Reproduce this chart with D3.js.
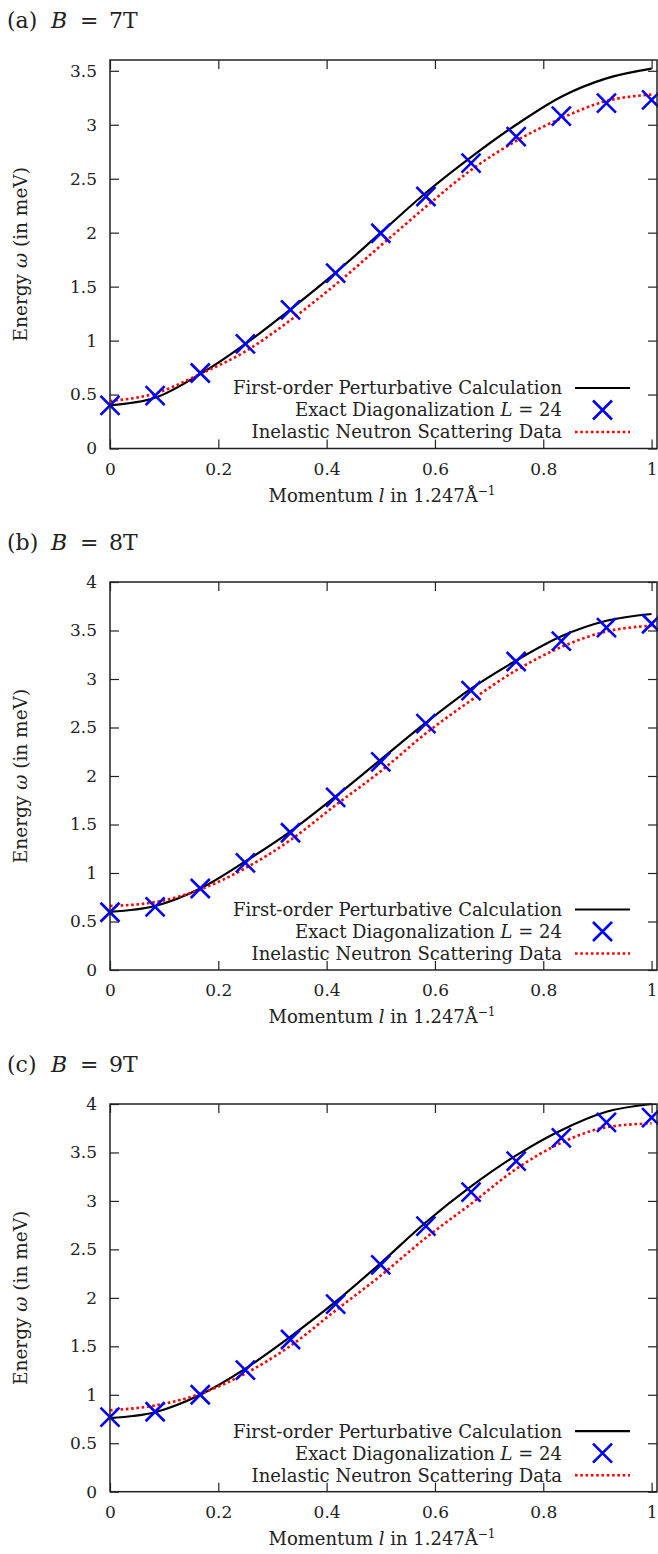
<!DOCTYPE html>
<html>
<head>
<meta charset="utf-8">
<script src="https://cdn.jsdelivr.net/npm/d3@7"></script>
<style>
  html, body { margin: 0; padding: 0; background: #fff; }
  svg { display: block; }
  text { font-family: "DejaVu Serif", "Liberation Serif", serif; fill: #222; }
</style>
</head>
<body>
<div id="chart"></div>
<script>
// momentum points l = k/12 (L = 24)
var momenta = [0, 1/12, 2/12, 3/12, 4/12, 5/12, 6/12, 7/12, 8/12, 9/12, 10/12, 11/12, 1];
var xTicks = [0, 0.2, 0.4, 0.6, 0.8, 1];

// B = 7T
var pert7  = [0.40, 0.47, 0.69, 0.97, 1.29, 1.63, 2.00, 2.37, 2.70, 3.00, 3.26, 3.43, 3.52];
var exact7 = [0.40, 0.49, 0.70, 0.97, 1.285, 1.625, 1.995, 2.335, 2.645, 2.89, 3.08, 3.20, 3.23];
var ins7   = [0.44, 0.51, 0.69, 0.90, 1.19, 1.52, 1.88, 2.24, 2.58, 2.85, 3.06, 3.22, 3.28];
// B = 8T
var pert8  = [0.60, 0.66, 0.84, 1.12, 1.43, 1.79, 2.17, 2.55, 2.90, 3.19, 3.44, 3.60, 3.67];
var exact8 = [0.595, 0.65, 0.84, 1.105, 1.415, 1.78, 2.145, 2.54, 2.88, 3.18, 3.39, 3.53, 3.57];
var ins8   = [0.66, 0.70, 0.83, 1.05, 1.34, 1.70, 2.05, 2.44, 2.78, 3.09, 3.33, 3.49, 3.55];
// B = 9T
var pert9  = [0.76, 0.82, 1.00, 1.27, 1.60, 1.96, 2.36, 2.78, 3.15, 3.47, 3.73, 3.92, 4.00];
var exact9 = [0.77, 0.825, 1.00, 1.255, 1.57, 1.935, 2.34, 2.74, 3.09, 3.41, 3.65, 3.81, 3.86];
var ins9   = [0.84, 0.89, 1.01, 1.22, 1.505, 1.87, 2.23, 2.62, 2.97, 3.33, 3.60, 3.76, 3.80];

var panelTags = ["(a)", "(b)", "(c)"];
var fields = ["7T", "8T", "9T"];
var yMaxes = [3.6, 4, 4];
var yTicks7 = [0, 0.5, 1, 1.5, 2, 2.5, 3, 3.5];
var yTicks89 = [0, 0.5, 1, 1.5, 2, 2.5, 3, 3.5, 4];
var legendLabels = ["First-order Perturbative Calculation", "Exact Diagonalization", "Inelastic Neutron Scattering Data"];

var panels = [
    {tag: panelTags[0], field: fields[0], yMax: yMaxes[0], yTicks: yTicks7, pert: pert7, exact: exact7, ins: ins7, top: 60, bottom: 448.5},
    {tag: panelTags[1], field: fields[1], yMax: yMaxes[1], yTicks: yTicks89, pert: pert8, exact: exact8, ins: ins8, top: 582, bottom: 970},
    {tag: panelTags[2], field: fields[2], yMax: yMaxes[2], yTicks: yTicks89, pert: pert9, exact: exact9, ins: ins9, top: 1104, bottom: 1491.7}
];

var width = 658, height = 1554;
var left = 110, right = 657;
var tickLen = 9;
var fontSize = 18;
var serif = "'DejaVu Serif', 'Liberation Serif', serif";

var svg = d3.select("#chart").append("svg")
    .attr("width", width)
    .attr("height", height);

var x = d3.scaleLinear().domain([0, 1.01]).range([left, right]);

function fmt(d) { return d3.format("")(+d.toFixed(1)); }

function cross(g, cx, cy, r) {
    g.append("path")
        .attr("d", "M" + (cx - r) + "," + (cy - r) + "L" + (cx + r) + "," + (cy + r) +
                   "M" + (cx - r) + "," + (cy + r) + "L" + (cx + r) + "," + (cy - r))
        .attr("stroke", "#0000ff")
        .attr("stroke-width", 2.6)
        .attr("fill", "none");
}

panels.forEach(function(p) {
    var y = d3.scaleLinear().domain([0, p.yMax]).range([p.bottom, p.top]);
    var g = svg.append("g");

    // title: (a) B = 7T
    var ty = p.top - 32;
    g.append("text").attr("x", 7).attr("y", ty).style("font-size", "22px").text(p.tag);
    g.append("text").attr("x", 51).attr("y", ty).style("font-size", "22px").style("font-style", "italic").text("B");
    g.append("text").attr("x", 80).attr("y", ty).style("font-size", "22px").text("=");
    g.append("text").attr("x", 109).attr("y", ty).style("font-size", "22px").text(p.field);

    // axes
    var ax = g.append("g").attr("class", "axes");
    ax.append("g")
        .attr("transform", "translate(0," + p.bottom + ")")
        .call(d3.axisBottom(x).tickValues(xTicks).tickSize(-tickLen).tickPadding(14).tickFormat(fmt));
    ax.append("g")
        .attr("transform", "translate(0," + p.top + ")")
        .call(d3.axisTop(x).tickValues(xTicks).tickSize(-tickLen).tickFormat(""));
    ax.append("g")
        .attr("transform", "translate(" + left + ",0)")
        .call(d3.axisLeft(y).tickValues(p.yTicks).tickSize(-tickLen).tickPadding(13).tickFormat(fmt));
    ax.append("g")
        .attr("transform", "translate(" + right + ",0)")
        .call(d3.axisRight(y).tickValues(p.yTicks).tickSize(-tickLen).tickFormat(""));
    ax.selectAll(".domain").remove();
    ax.selectAll(".tick line").attr("stroke", "#222").attr("stroke-width", 1.2);
    ax.selectAll("g").attr("font-family", null).attr("font-size", null);
    ax.selectAll(".tick text")
        .attr("fill", "#222")
        .style("font-family", serif)
        .style("font-size", "17px");

    // axis titles
    var xl = g.append("text")
        .attr("x", 382)
        .attr("y", p.bottom + 53)
        .attr("text-anchor", "middle")
        .style("font-size", "18px");
    xl.append("tspan").text("Momentum ");
    xl.append("tspan").style("font-style", "italic").text("l");
    xl.append("tspan").text(" in 1.247Å");
    xl.append("tspan").attr("baseline-shift", "super").style("font-size", "12px").text("−1");

    var yl = g.append("text")
        .attr("transform", "translate(27," + ((p.top + p.bottom) / 2) + ") rotate(-90)")
        .attr("text-anchor", "middle")
        .style("font-size", "18.5px");
    yl.append("tspan").text("Energy ");
    yl.append("tspan").style("font-style", "italic").text("ω");
    yl.append("tspan").text(" (in meV)");

    // series
    var pts = function(arr) { return arr.map(function(v, i) { return [momenta[i], v]; }); };
    var line = d3.line()
        .x(function(d) { return x(d[0]); })
        .y(function(d) { return y(d[1]); })
        .curve(d3.curveMonotoneX);

    g.append("path")
        .attr("d", line(pts(p.pert)))
        .attr("fill", "none")
        .attr("stroke", "#000")
        .attr("stroke-width", 2.2);
    g.append("path")
        .attr("d", line(pts(p.ins)))
        .attr("fill", "none")
        .attr("stroke", "#ff0000")
        .attr("stroke-width", 2.6)
        .attr("stroke-dasharray", "2.6,2.7");
    pts(p.exact).forEach(function(d) {
        cross(g, x(d[0]), y(d[1]), 9.5);
    });

    // border
    g.append("rect")
        .attr("x", left)
        .attr("y", p.top)
        .attr("width", right - left)
        .attr("height", p.bottom - p.top)
        .attr("fill", "none")
        .attr("stroke", "#222")
        .attr("stroke-width", 1.5);

    // legend
    var lg = g.append("g");
    var rows = [p.bottom - 60.5, p.bottom - 38.5, p.bottom - 16.5];
    rows.forEach(function(ry, i) {
        var t = lg.append("text")
            .attr("x", 562)
            .attr("y", ry)
            .attr("dy", "0.35em")
            .attr("text-anchor", "end")
            .style("font-size", fontSize + "px");
        t.append("tspan").text(legendLabels[i]);
        if (i === 1) {
            t.append("tspan").text(" ");
            t.append("tspan").style("font-style", "italic").text("L");
            t.append("tspan").text(" = 24");
        }
    });
    lg.append("line")
        .attr("x1", 575).attr("x2", 630)
        .attr("y1", rows[0]).attr("y2", rows[0])
        .attr("stroke", "#000").attr("stroke-width", 2.2);
    cross(lg, 602.5, rows[1], 9.5);
    lg.append("line")
        .attr("x1", 575).attr("x2", 630)
        .attr("y1", rows[2]).attr("y2", rows[2])
        .attr("stroke", "#ff0000").attr("stroke-width", 2.6)
        .attr("stroke-dasharray", "2.6,2.7");
});
</script>
</body>
</html>
